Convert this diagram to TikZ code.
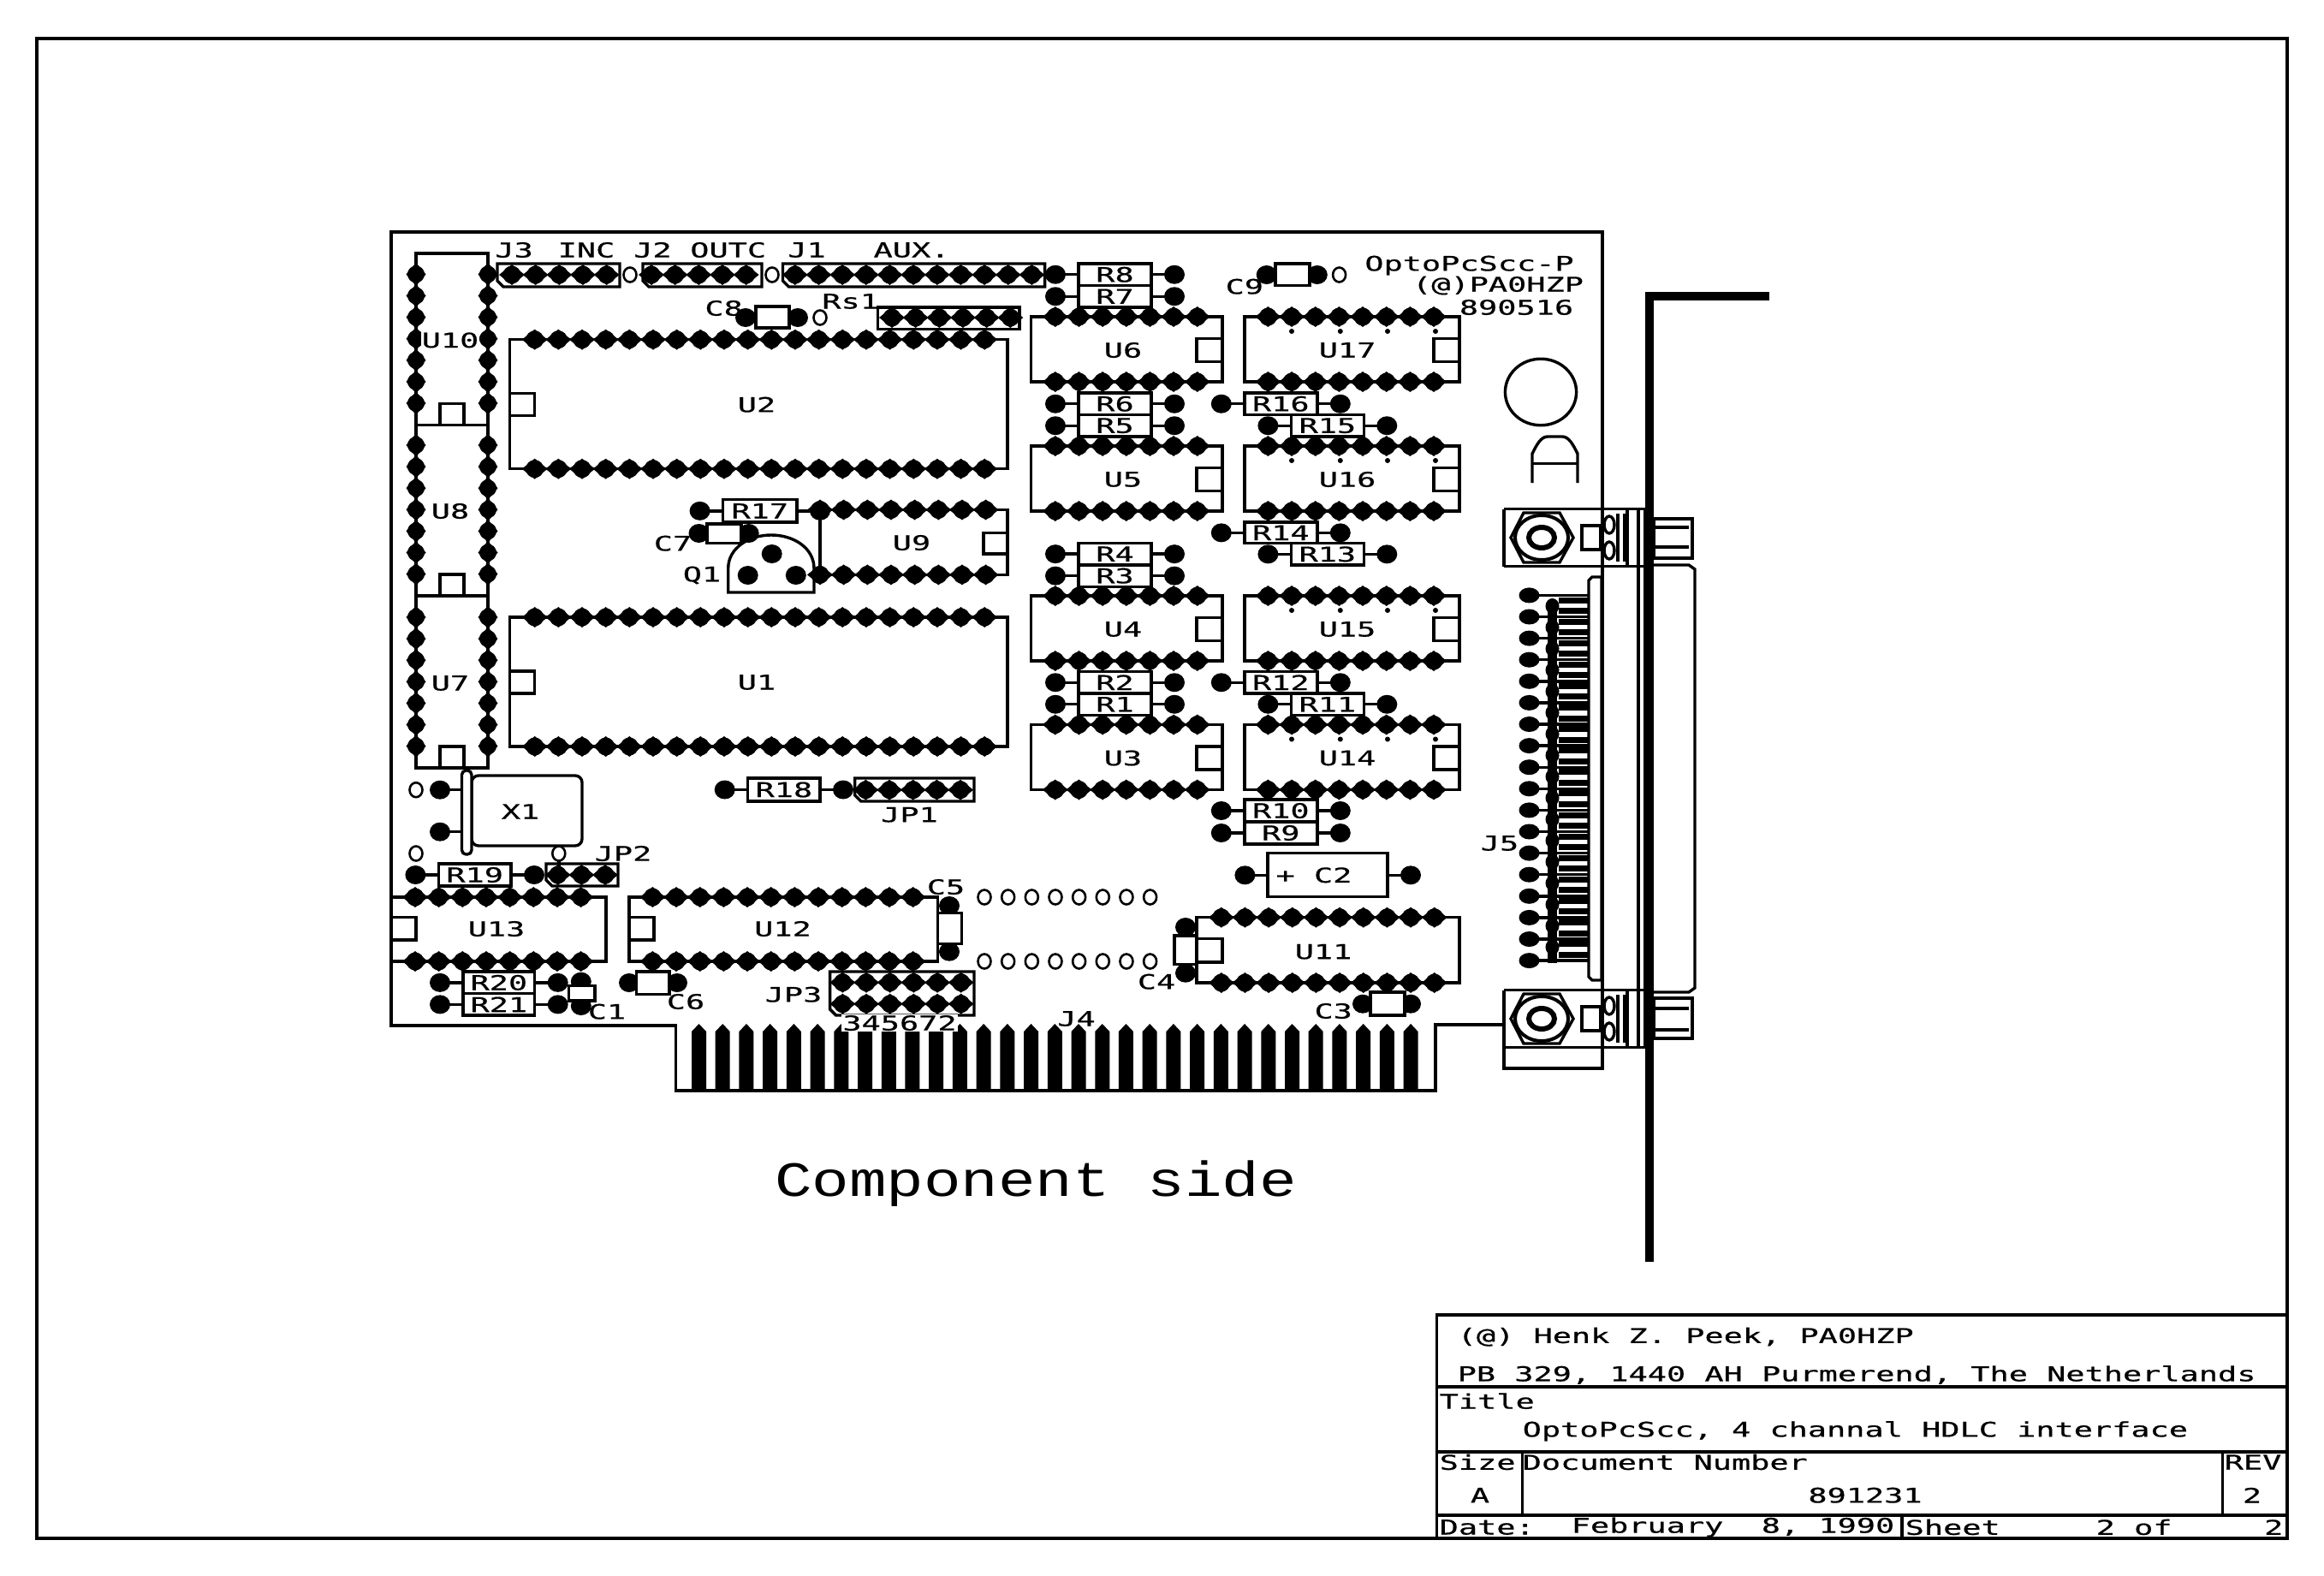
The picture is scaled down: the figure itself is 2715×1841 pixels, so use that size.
\documentclass[tikz,border=0pt]{standalone}
\usepackage{fontspec}
\newfontfamily\plotfont[FakeStretch=1.55,FakeBold=0.6]{DejaVu Sans Mono}
\newfontfamily\bigplotfont[FakeStretch=1.26]{Liberation Mono}

\tikzset{
  lbl/.style={font=\plotfont\fontsize{11.9}{12}\selectfont,inner sep=0pt},
  lblw/.style={lbl,anchor=west},
  body/.style={draw,fill=white},
  hole/.style={draw,line width=1.3pt},
}

% rows of pads at the 0.1 inch pitch
\newcommand{\padh}[3]{%
  \foreach \i in {1,...,#3} {
    \fill ({#1+(\i-1)*27.66},#2) circle [radius=10.5];
    \fill ({#1+(\i-1)*27.66},#2) +(-15,0) -- +(0,-12) -- +(15,0) -- +(0,12) -- cycle;
  }}
\newcommand{\padv}[3]{%
  \foreach \i in {1,...,#3} {
    \fill (#1,{#2+(\i-1)*25.1}) circle [radius=10];
    \fill (#1,{#2+(\i-1)*25.1}) +(-11.5,0) -- +(0,-13.6) -- +(11.5,0) -- +(0,13.6) -- cycle;
  }}
\newcommand{\pad}[2]{\fill (#1,#2) ellipse [x radius=12,y radius=11];}
\newcommand{\header}[4]{\draw (#1,#2) -- (#3,#2) -- (#3,#4) -- (#1+7,#4) -- (#1,#4-7) -- cycle;}

\begin{document}
\begin{tikzpicture}[x=0.5pt,y=-0.5pt,line width=1.7pt]
  \useasboundingbox (0,0) rectangle (2715,1841);

  % sheet frame and title block
  \draw[line width=1.9pt] (43,45) rectangle (2672,1797);
  \draw[line width=1.9pt] (1678.5,1536) rectangle (2672,1797);
  \draw[line width=1.9pt] (1678.5,1620) -- (2672,1620);
  \draw[line width=1.9pt] (1678.5,1695.7) -- (2672,1695.7);
  \draw[line width=1.9pt] (1678.5,1770) -- (2672,1770);
  \draw (1778.4,1695.7) -- (1778.4,1770);
  \draw (2596.4,1695.7) -- (2596.4,1770);
  \draw (2222,1770) -- (2222,1797);

  \node[lblw] (tbowner) at (1701,1561.7) {(@) Henk Z. Peek, PA0HZP};
  \node[lblw] (tbaddr) at (1701,1606) {PB 329, 1440 AH Purmerend, The Netherlands};
  \node[lblw] (tbtitle) at (1680,1636.7) {Title};
  \node[lblw] (tbname) at (1777,1671.7) {OptoPcScc, 4 channal HDLC interface};
  \node[lblw] (tbsize) at (1680,1708) {Size};
  \node[lblw] (tbdoc) at (1777,1708) {Document Number};
  \node[lblw] (tbrev) at (2597,1708) {REV};
  \node[lbl] (tba) at (1729,1746.7) {A};
  \node[lbl] (tbnum) at (2179,1746.7) {891231};
  \node[lbl] (tbrevnum) at (2631,1746.7) {2};
  \node[lblw] (tbdate) at (1680,1784) {Date:};
  \node[lblw] (tbfeb) at (1834,1784) {February\ \ 8, 1990};
  \node[lblw] (tbsheet) at (2224,1784) {Sheet};
  \node[lblw] (tbof) at (2447,1784) {2 of};
  \node[lbl,anchor=east] (tbtotal) at (2669,1784) {2};

  \node[font=\bigplotfont\fontsize{28.8}{30}\selectfont,inner sep=0pt] (side) at (1210,1383) {Component side};

  % board outline with edge connector
  \draw (1757,1197) -- (1677,1197) -- (1677,1274) -- (789.5,1274) -- (789.5,1198) -- (457,1198) -- (457,271) -- (1872,271) -- (1872,1248) -- (1757,1248) -- (1757,1157);
  \foreach \i in {0,...,30} {
    \fill ({816.5+\i*27.72-8.5},1272) -- ({816.5+\i*27.72-8.5},1205) -- ({816.5+\i*27.72},1196) -- ({816.5+\i*27.72+8.5},1205) -- ({816.5+\i*27.72+8.5},1272) -- cycle;
  }

  % vertical packages at the left
  \draw (486,296) -- (570,296) -- (570,897.6) -- (486,897.6) -- cycle;
  \foreach \nm/\ya in {U10/320.4,U8/520,U7/721} {
    \padv{486}{\ya}{7};
    \padv{570}{\ya}{7};
    \draw (514,\ya+151) rectangle (542,\ya+176);
    \draw (486,\ya+176) -- (570,\ya+176);
    \node[lbl,fill=white,inner sep=0.5pt] (\nm) at (526,\ya+77) {\nm};
  }

  % large packages
  \foreach \nm/\ya in {U2/396.7,U1/721} {
    \draw (595.6,\ya) rectangle (1177,\ya+151);
    \draw (595.6,\ya+63) rectangle (624.7,\ya+89);
    \padh{624.7}{\ya}{20};
    \padh{624.7}{\ya+151}{20};
    \node[lbl] (\nm) at (884,\ya+76) {\nm};
  }

  % U9
  \draw (958,595.5) rectangle (1177,671.4);
  \draw (1149,622.4) rectangle (1177,647);
  \padh{958}{595.5}{8};
  \padh{958}{671.4}{8};
  \node[lbl] (U9) at (1065,634) {U9};

  % two columns of logic packages
  \foreach \nm/\ya in {U6/370,U5/521,U4/696,U3/846.5} {
    \draw (1204.7,\ya) rectangle (1428,\ya+76);
    \draw (1398,\ya+25.5) rectangle (1428,\ya+52.4);
    \padh{1232.8}{\ya}{7};
    \padh{1232.8}{\ya+76}{7};
    \node[lbl] (\nm) at (1312,\ya+39) {\nm};
  }
  \foreach \nm/\ya in {U17/370,U16/521,U15/696,U14/846.5} {
    \draw (1453.8,\ya) rectangle (1705,\ya+76);
    \draw (1675,\ya+25.5) rectangle (1705,\ya+52.4);
    \padh{1481.4}{\ya}{8};
    \padh{1481.4}{\ya+76}{8};
    \foreach \x in {1509,1565.8,1621,1677}
      \fill (\x,\ya+17) circle [radius=3];
    \node[lbl] (\nm) at (1574,\ya+39) {\nm};
  }

  % bottom row packages
  \draw (457,1048) rectangle (708,1123);
  \draw (457,1071.7) rectangle (486,1098);
  \padh{485}{1048}{8};
  \padh{485}{1123}{8};
  \node[lbl] (U13) at (580,1085) {U13};

  \draw (735,1048) rectangle (1095.6,1123);
  \draw (735,1071.7) rectangle (764,1098);
  \padh{762.4}{1048}{12};
  \padh{762.4}{1123}{12};
  \node[lbl] (U12) at (914.5,1085) {U12};

  \draw (1398,1071.7) rectangle (1705,1148);
  \draw (1398,1096.7) rectangle (1428,1124);
  \padh{1426.8}{1071.7}{10};
  \padh{1426.8}{1148}{10};
  \node[lbl] (U11) at (1546,1111.7) {U11};

  % open holes
  \foreach \i in {0,...,7} {
    \draw[hole] ({1150+\i*27.66},1048) ellipse [x radius=7.5,y radius=8.5];
    \draw[hole] ({1150+\i*27.66},1123) ellipse [x radius=7.5,y radius=8.5];
  }
  \foreach \x/\y in {736/321,902/321,958/371,1564.6/321,486/922.7,486/997,652.8/997}
    \draw[hole] (\x,\y) ellipse [x radius=7.5,y radius=8.5];

  % headers
  \header{581}{308}{724}{335};
  \padh{598}{321}{5};
  \header{751}{308}{890}{335};
  \padh{761}{321}{5};
  \header{914.5}{308}{1220.6}{335};
  \padh{928.8}{321}{11};
  \draw (1025.7,359) rectangle (1191,384.5);
  \padh{1042}{371}{6};
  \header{998.7}{909}{1138}{936};
  \padh{1011.4}{922.7}{5};
  \header{638}{1009}{722}{1035};
  \padh{651.7}{1022}{3};
  \draw (652.8,1004) -- (652.8,1012);
  \header{969.6}{1135}{1138}{1186};
  \padh{984.4}{1147.7}{6};
  \padh{984.4}{1172.7}{6};

  % resistors
  \foreach \nm/\xa/\xb/\ya/\yb in {R8/1260/1345/308/333.5,R7/1260/1345/333.5/359,
      R6/1260/1345/459/484.5,R5/1260/1345/484.5/510,R4/1260/1345/634.3/660,R3/1260/1345/660/685.3,
      R2/1260/1345/784.5/810,R1/1260/1345/810/835.5,
      R16/1453.8/1538.8/459/484.5,R15/1508.4/1593.3/484.5/510,R14/1453.8/1538.8/610/634.7,
      R13/1508.4/1593.3/634.7/660,R12/1453.8/1538.8/784.5/810,R11/1508.4/1593.3/810/835.5,
      R10/1453.8/1538.8/934/960,R9/1453.8/1538.8/960/986,R17/844.6/931/583.7/610,
      R18/873.7/958/909/936,R19/512.4/597/1009/1035,R20/541/624.7/1135/1160.7,R21/541/624.7/1160.7/1186} {
    \pgfmathsetmacro\ym{(\ya+\yb)/2}
    \draw (\xa-27,\ym) -- (\xb+27,\ym);
    \pad{\xa-27}{\ym}
    \pad{\xb+27}{\ym}
    \draw[body] (\xa,\ya) rectangle (\xb,\yb) node[midway,lbl] (\nm) {\nm};
  }

  % capacitors
  \foreach \xa/\xb/\ya/\yb/\xl/\xr/\ym in {883/922/358/383/871/932/371,826/866/612/634.7/816.5/874.7/623,
      1490/1530/308/333.5/1479.7/1538.8/321,743.6/782/1135/1161.7/735/791/1148,
      1601/1641/1159/1186/1592/1648/1172.7} {
    \pad{\xl}{\ym}
    \pad{\xr}{\ym}
    \draw[body] (\xa,\ya) rectangle (\xb,\yb);
  }
  \foreach \xa/\xb/\ya/\yb/\xm/\yt/\yu in {1095.6/1123.7/1066.7/1102.7/1109/1058/1111.7,
      664.5/695/1151.7/1169/678.8/1146.7/1175,1372/1398/1093/1126.7/1385/1083/1136.7} {
    \pad{\xm}{\yt}
    \pad{\xm}{\yu}
    \draw[body] (\xa,\ya) rectangle (\xb,\yb);
  }
  \draw (1620,1148) -- (1620,1159);
  \draw (1454.4,1022.3) -- (1648,1022.3);
  \pad{1454.4}{1022.3}
  \pad{1648}{1022.3}
  \draw[body] (1481,996.7) rectangle (1621,1047.7);
  \node[lbl] (C2) at (1535,1022.3) {+ C2};

  % transistor
  \draw (850.7,692) -- (850.7,664) .. controls (850.7,640) and (875,625) .. (901,625) .. controls (927,625) and (951,640) .. (951,664) -- (951,692) -- cycle;
  \pad{901.7}{647}
  \pad{873.7}{672}
  \pad{929.8}{672}

  % crystal
  \draw (514,922.7) -- (540,922.7);
  \draw (514,971.7) -- (540,971.7);
  \pad{514}{922.7}
  \pad{514}{971.7}
  \draw[rounded corners=4pt] (551,906) -- (680,906) -- (680,988) -- (551,988) -- cycle;
  \draw[body,rounded corners=2.5pt] (539.5,900) rectangle (551,998);
  \node[lbl] (X1) at (608,948) {X1};

  % mounting hole and marker
  \draw (1800,458) ellipse [x radius=41.6,y radius=38.8];
  \draw (1790,564) -- (1790,530) .. controls (1795,520) and (1800,510) .. (1808,510) -- (1825,510) .. controls (1833,510) and (1838,520) .. (1843,530) -- (1843,564);
  \draw (1790,541.6) -- (1843,541.6);

  % D connector
  \foreach \i in {0,...,33}
    \draw[line width=3.5pt] (1821,{701+\i*12.55}) -- (1856,{701+\i*12.55});
  \foreach \i in {0,...,17} {
    \draw (1786.5,{695.4+\i*25.1}) -- (1856,{695.4+\i*25.1});
    \fill (1786.5,{695.4+\i*25.1}) ellipse [x radius=12,y radius=9];
  }
  \fill (1808,702) rectangle (1819,1125);
  \foreach \i in {0,...,16}
    \fill (1813.5,{708+\i*24.9}) ellipse [x radius=8,y radius=9];
  \draw[body] (1860,674) -- (1871,674) -- (1871,1145) -- (1860,1145) -- (1856,1141) -- (1856,678) -- cycle;
  \draw (1914,594) -- (1914,1222);
  \draw (1932,660) -- (1973,660) -- (1980,665) -- (1980,1154) -- (1973,1159) -- (1932,1159);
  \foreach \ya/\yb/\yc/\yd in {606/616/639/652,1166/1178/1203/1213} {
    \draw (1932,\ya) rectangle (1977,\yd);
    \draw (1932,\yb) -- (1973,\yb);
    \draw (1932,\yc) -- (1973,\yc);
  }
  \foreach \ym in {628,1190} {
    \draw (1757,\ym-33.5) -- (1922,\ym-33.5);
    \draw (1757,\ym+33.5) -- (1922,\ym+33.5);
    \draw (1757,\ym-33.5) -- (1757,\ym+33.5);
    \draw (1765,\ym) -- (1780,\ym-29) -- (1822,\ym-29) -- (1838,\ym) -- (1822,\ym+29) -- (1780,\ym+29) -- cycle;
    \draw[line width=2pt] (1801,\ym) ellipse [x radius=31,y radius=26];
    \draw[line width=3pt] (1801,\ym) ellipse [x radius=15,y radius=12];
    \draw[line width=2pt] (1848,\ym-14) rectangle (1870,\ym+14);
    \draw (1880,\ym-15) ellipse [x radius=6,y radius=10];
    \draw (1880,\ym+15) ellipse [x radius=6,y radius=10];
    \draw (1890,\ym-28) -- (1890,\ym+28);
    \draw (1897.5,\ym-28) -- (1897.5,\ym+28);
    \draw (1901,\ym-33.5) -- (1901,\ym+33.5);
  }
  \draw (1922,594) -- (1922,1222);

  % bracket
  \draw[line width=5pt,line join=miter] (1926.5,1473.6) -- (1926.5,345.5) -- (2067,345.5);

  % part labels
  \foreach \nm/\txt/\x/\y in {lblJ3/J3/600.7/292,lblINC/INC/685/292,lblJ2/J2/762.5/292,lblOUTC/OUTC/850.7/292,
      lblJ1/J1/942.5/292,lblAUX/AUX./1065/292,C8/C8/845.6/360,Rs1/Rs1/993.6/352,C7/C7/786/634.7,Q1/Q1/820/672,
      C9/C9/1453.8/334.7,JP1/JP1/1062.5/951.7,JP2/JP2/728/997,JP3/JP3/927/1161.7,C5/C5/1105/1036,
      C1/C1/709/1181.7,C6/C6/801/1170,C4/C4/1351/1146.7,C3/C3/1557.7/1181,lblJ4/J4/1257.5/1190,
      J5/J5/1752/985}
    \node[lbl] (\nm) at (\x,\y) {\txt};
  \node[lbl,fill=white,inner sep=0.5pt] (lblrev) at (1051,1195) {345672};
  \node[lbl] (brd) at (1716.5,310) {OptoPcScc-P};
  \node[lbl] (brdcall) at (1750,333.5) {(@)PA0HZP};
  \node[lbl] (brddate) at (1771.5,359) {890516};
\end{tikzpicture}
\end{document}
